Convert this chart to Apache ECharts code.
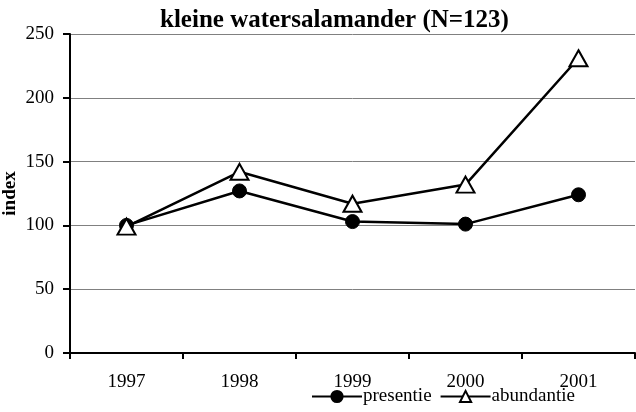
<!DOCTYPE html>
<html><head><meta charset="utf-8">
<script src="https://cdn.jsdelivr.net/npm/echarts@6/dist/echarts.min.js"></script>
<style>html,body{margin:0;padding:0;background:#fff}#c{width:636px;height:412px}</style>
</head><body><div id="c"></div>
<script>
const years = ['1997','1998','1999','2000','2001'];
const presentie = [100, 127, 103, 101, 124];
const abundantie = [99, 142, 117, 132, 231];
const yTicks = [0, 50, 100, 150, 200, 250];
const titleText = 'kleine watersalamander (N=123)';
const yName = 'index';

const F = '"Liberation Serif","Times New Roman",serif';
const chart = echarts.init(document.getElementById('c'));
chart.setOption({
  animation: false,
  backgroundColor: '#fff',
  title: { text: titleText, left: 155, top: 3,
    textStyle: { fontFamily: F, fontWeight: 'bold', fontSize: 25, color: '#000' } },
  grid: { left: 70, right: 1, top: 34, bottom: 59, outerBoundsMode: 'none', containLabel: false },
  legend: { left: 306, top: 382, itemWidth: 50, itemHeight: 14, itemGap: 8,
    textStyle: { fontFamily: F, fontSize: 19, color: '#000', padding: [0,0,0,-4] },
    data: ['presentie', 'abundantie'] },
  xAxis: { type: 'category', data: years, boundaryGap: true,
    axisLine: { lineStyle: { color: '#000', width: 2 } },
    axisTick: { show: true, length: 6, lineStyle: { color: '#000', width: 2 } },
    axisLabel: { fontFamily: F, fontSize: 19, color: '#000', margin: 20 } },
  yAxis: { type: 'value', min: yTicks[0], max: yTicks[yTicks.length-1], interval: 50,
    name: yName, nameLocation: 'middle', nameGap: 50, nameRotate: 90, nameMoveOverlap: false,
    nameTextStyle: { fontFamily: F, fontWeight: 'bold', fontSize: 19, color: '#000' },
    axisLine: { show: true, lineStyle: { color: '#000', width: 2 } },
    axisTick: { show: true, length: 7, lineStyle: { color: '#000', width: 2 } },
    axisLabel: { fontFamily: F, fontSize: 19, color: '#000', margin: 16 },
    splitLine: { show: true, lineStyle: { color: '#808080', width: 1 } } },
  series: [
    { name: 'presentie', type: 'line', data: presentie, symbol: 'circle', symbolSize: 14,
      lineStyle: { color: '#000', width: 2.5 },
      itemStyle: { color: '#000', borderColor: '#000', borderWidth: 1 } },
    { name: 'abundantie', type: 'line', data: abundantie, symbol: 'triangle', symbolSize: [18, 16],
      lineStyle: { color: '#000', width: 2.5 },
      itemStyle: { color: '#fff', borderColor: '#000', borderWidth: 2 } }
  ]
});
</script></body></html>
